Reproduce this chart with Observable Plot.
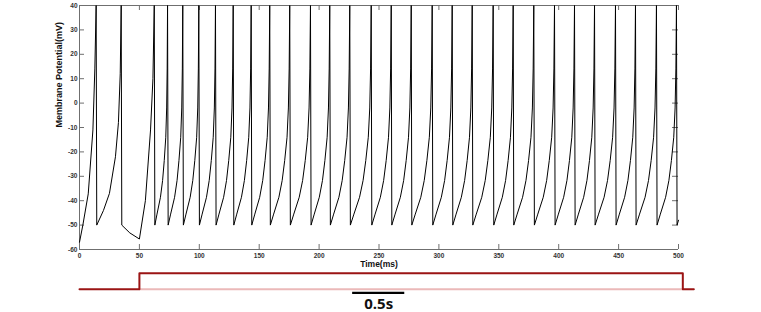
<!DOCTYPE html>
<html><head><meta charset="utf-8">
<script src="https://cdn.jsdelivr.net/npm/d3@7"></script>
<script src="https://cdn.jsdelivr.net/npm/@observablehq/plot@0.6"></script>
<style>
html,body{margin:0;padding:0;background:#fff;}
#chart svg{display:block;}
</style></head><body><div id="chart"></div>
<script>
// ---- data ----
const xTicks = [0, 50, 100, 150, 200, 250, 300, 350, 400, 450, 500];
const yTicks = [-60, -50, -40, -30, -20, -10, 0, 10, 20, 30, 40];

// trace before the regular firing (t in ms, v in mV)
const preTrace = [
  [0, -57], [2.8, -50], [7.3, -37.2], [11.2, -11], [12.8, 14], [13.9, 40],
  [14.4, -50], [20, -44], [25, -37], [30, -22], [32.5, -8], [34, 12], [34.8, 40],
  [35.3, -50], [42, -53.2], [50, -55.7], [55, -40], [59.3, -11], [61.3, 10], [62.4, 40]
];
// spike times of the regular firing (ms)
const spikeTimes = [62.4, 73.5, 86.2, 99.6, 113.5, 128.3, 143.3, 158.8, 175.5, 192.8,
  208.9, 225.6, 243.5, 260.2, 276.9, 294.4, 311.1, 327.8, 345.3, 362.0, 379.2, 396.5,
  413.2, 429.9, 447.4, 464.1, 481.6, 498.3];
const peakV = 40, resetV = -50, resetDelay = 0.5;
// shape of one inter-spike rise, [fraction of interval, mV]
const cycleShape = [[0, -50], [0.17, -45.5], [0.44, -38.6], [0.61, -31.7], [0.74, -23.5],
  [0.86, -14], [0.93, -2], [0.97, 14], [1, 40]];
const endPoint = [500, -48];

// stimulus trace
const stimTimes = [0, 50, 50, 503.6, 503.6, 512.8];
const stimLevels = [0, 0, 1, 1, 0, 0];
const stimBaseline = [50, 503.6];
const scaleBar = [228, 271.5];
const scaleLabel = "0.5s";

// ---- build tables ----
const trace = preTrace.map(([t, v]) => ({t, v}));
for (let i = 0; i < spikeTimes.length; i++) {
  const ts = spikeTimes[i];
  const tr = ts + resetDelay;
  trace.push({t: tr, v: resetV});
  if (i + 1 < spikeTimes.length) {
    const tn = spikeTimes[i + 1];
    for (const [f, v] of cycleShape.slice(1)) trace.push({t: tr + f * (tn - tr), v});
  }
}
trace.push({t: endPoint[0], v: endPoint[1]});
const stim = stimTimes.map((t, i) => ({t, i: stimLevels[i]}));

const frameColor = "#6f6f6f";
const fmt = d => String(d);

const main = Plot.plot({
  width: 761, height: 270,
  marginTop: 5, marginBottom: 21, marginLeft: 79, marginRight: 83,
  x: {domain: [0, 500]},
  y: {domain: [-60, 40]},
  style: {fontFamily: "'Liberation Sans', Arial, sans-serif", fontSize: "6.5px", color: "#333", background: "white"},
  marks: [
    Plot.axisX(xTicks, {tickSize: 0, tickPadding: 3.5, label: null, tickFormat: fmt, fontWeight: "bold"}),
    Plot.axisY(yTicks, {tickSize: 0, tickPadding: 2, label: null, tickFormat: fmt, fontWeight: "bold"}),
    Plot.tickY(yTicks, {y: d => d, insetRight: 594, stroke: frameColor}),
    Plot.tickY(yTicks, {y: d => d, insetLeft: 593, stroke: frameColor}),
    Plot.tickX(xTicks, {x: d => d, insetTop: 239, stroke: frameColor}),
    Plot.tickX(xTicks, {x: d => d, insetBottom: 239, stroke: frameColor}),
    Plot.ruleY([40], {stroke: frameColor}),
    Plot.ruleY([-60], {stroke: frameColor}),
    Plot.ruleX([0], {stroke: frameColor}),
    Plot.line(trace, {x: "t", y: "v", stroke: "#000", strokeWidth: 1}),
    Plot.text(["Time(ms)"], {text: d => d, frameAnchor: "bottom", dy: 17, fontSize: 8.5, fontWeight: "bold", fill: "#111"}),
    Plot.text(["Membrane Potential(mV)"], {text: d => d, frameAnchor: "left", dx: -20, rotate: -90, fontSize: 9, fontWeight: "bold", fill: "#111"})
  ]
});

const stimPlot = Plot.plot({
  width: 761, height: 42,
  marginTop: 2.7, marginBottom: 23.3, marginLeft: 79, marginRight: 83,
  x: {domain: [0, 500], axis: null},
  y: {domain: [0, 1], axis: null},
  style: {background: "white"},
  marks: [
    Plot.line(stimBaseline, {x: d => d, y: () => 0, stroke: "#ebb9b9", strokeWidth: 2}),
    Plot.line(stim, {x: "t", y: "i", stroke: "#9b1414", strokeWidth: 2}),
    Plot.ruleY([scaleBar], {y: () => 0, x1: d => d[0], x2: d => d[1], dy: 3.6, stroke: "#000", strokeWidth: 2.2}),
    Plot.text([scaleLabel], {text: d => d, x: () => d3.mean(scaleBar), y: () => 0, dy: 14.5, fontSize: 15, fontWeight: "bold", fontFamily: "'Open Sans', sans-serif", fill: "#111"})
  ]
});

document.getElementById("chart").append(main, stimPlot);
</script></body></html>
